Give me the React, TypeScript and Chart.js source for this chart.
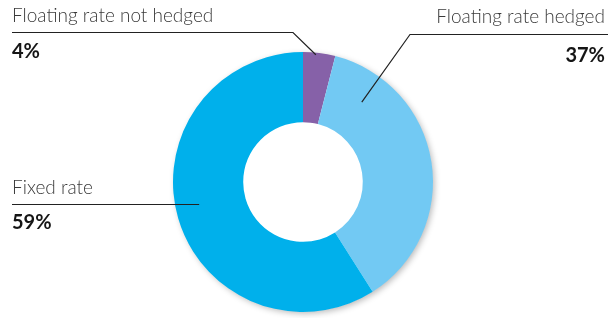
import React, { useEffect, useRef } from "react";
import { Chart, registerables } from "chart.js";

Chart.register(...registerables);

const categories = ["Floating rate not hedged", "Floating rate hedged", "Fixed rate"];
const values = [4, 37, 59];
const valueLabels = ["4%", "37%", "59%"];
const colors = ["#8661A8", "#72C9F3", "#00B0EB"];

// label layout: text placement and where the leader touches the slice
const labelLayout = [
  { x: 12, align: "left", nameY: 22, pctY: 58, lineY: 32.5, elbowX: 293, lineEnd: 12, t: 0.4, rf: 0.97 },
  { x: 605, align: "right", nameY: 23, pctY: 62, lineY: 34.5, elbowX: 410, lineEnd: 608, t: 0.165, rf: 0.56 },
  { x: 12, align: "left", nameY: 194, pctY: 229, lineY: null, elbowX: null, lineEnd: 12, t: 0.52, rf: 0.66 },
];

const shadowPlugin = {
  id: "ringShadow",
  beforeDatasetsDraw(chart: any) {
    const meta = chart.getDatasetMeta(0);
    const arc = meta.data[0];
    if (!arc) return;
    const { x, y, outerRadius } = arc.getProps(["x", "y", "outerRadius"], true);
    const ctx = chart.ctx;
    ctx.save();
    ctx.shadowColor = "rgba(0,0,0,0.28)";
    ctx.shadowBlur = 6;
    ctx.shadowOffsetX = 2;
    ctx.shadowOffsetY = 2;
    ctx.fillStyle = "#ffffff";
    ctx.beginPath();
    ctx.arc(x, y, outerRadius - 0.5, 0, Math.PI * 2);
    ctx.fill();
    ctx.restore();
  },
};

const labelPlugin = {
  id: "leaderLabels",
  afterDraw(chart: any) {
    const ctx = chart.ctx;
    const meta = chart.getDatasetMeta(0);
    meta.data.forEach((arc: any, i: number) => {
      const L = labelLayout[i];
      const p = arc.getProps(["x", "y", "startAngle", "endAngle", "innerRadius", "outerRadius"], true);
      const ang = p.startAngle + L.t * (p.endAngle - p.startAngle);
      const r = p.innerRadius + L.rf * (p.outerRadius - p.innerRadius);
      const ax = p.x + Math.cos(ang) * r;
      const ay = p.y + Math.sin(ang) * r;

      ctx.save();
      ctx.strokeStyle = "#222222";
      ctx.lineWidth = 1.2;
      ctx.beginPath();
      if (L.elbowX === null) {
        const ly = Math.round(ay) + 0.5;
        ctx.moveTo(L.lineEnd, ly);
        ctx.lineTo(ax, ly);
      } else {
        ctx.moveTo(L.lineEnd, L.lineY as number);
        ctx.lineTo(L.elbowX, L.lineY as number);
        ctx.lineTo(ax, ay);
      }
      ctx.stroke();

      ctx.textAlign = L.align as CanvasTextAlign;
      ctx.textBaseline = "alphabetic";
      ctx.fillStyle = "#3a3a3a";
      ctx.font = "300 19px Lato";
      ctx.fillText(categories[i], L.x, L.nameY);
      ctx.fillStyle = "#151515";
      ctx.font = "bold 20px Lato";
      ctx.fillText(valueLabels[i], L.x, L.pctY);
      ctx.restore();
    });
  },
};

export default function App() {
  const ref = useRef<HTMLCanvasElement | null>(null);
  useEffect(() => {
    if (!ref.current) return;
    const chart = new Chart(ref.current, {
      type: "doughnut",
      data: {
        labels: categories,
        datasets: [
          {
            data: values,
            backgroundColor: colors,
            borderWidth: 0,
          },
        ],
      },
      options: {
        responsive: false,
        animation: false,
        cutout: "46%",
        layout: { padding: { left: 173, right: 175, top: 52, bottom: 6 } },
        plugins: { legend: { display: false }, tooltip: { enabled: false } },
      },
      plugins: [shadowPlugin, labelPlugin],
    });
    return () => chart.destroy();
  }, []);
  return (
    <div style={{ position: "fixed", left: 0, top: 0, width: 608, height: 318, background: "#fff" }}>
      <canvas ref={ref} width={608} height={318} />
    </div>
  );
}
